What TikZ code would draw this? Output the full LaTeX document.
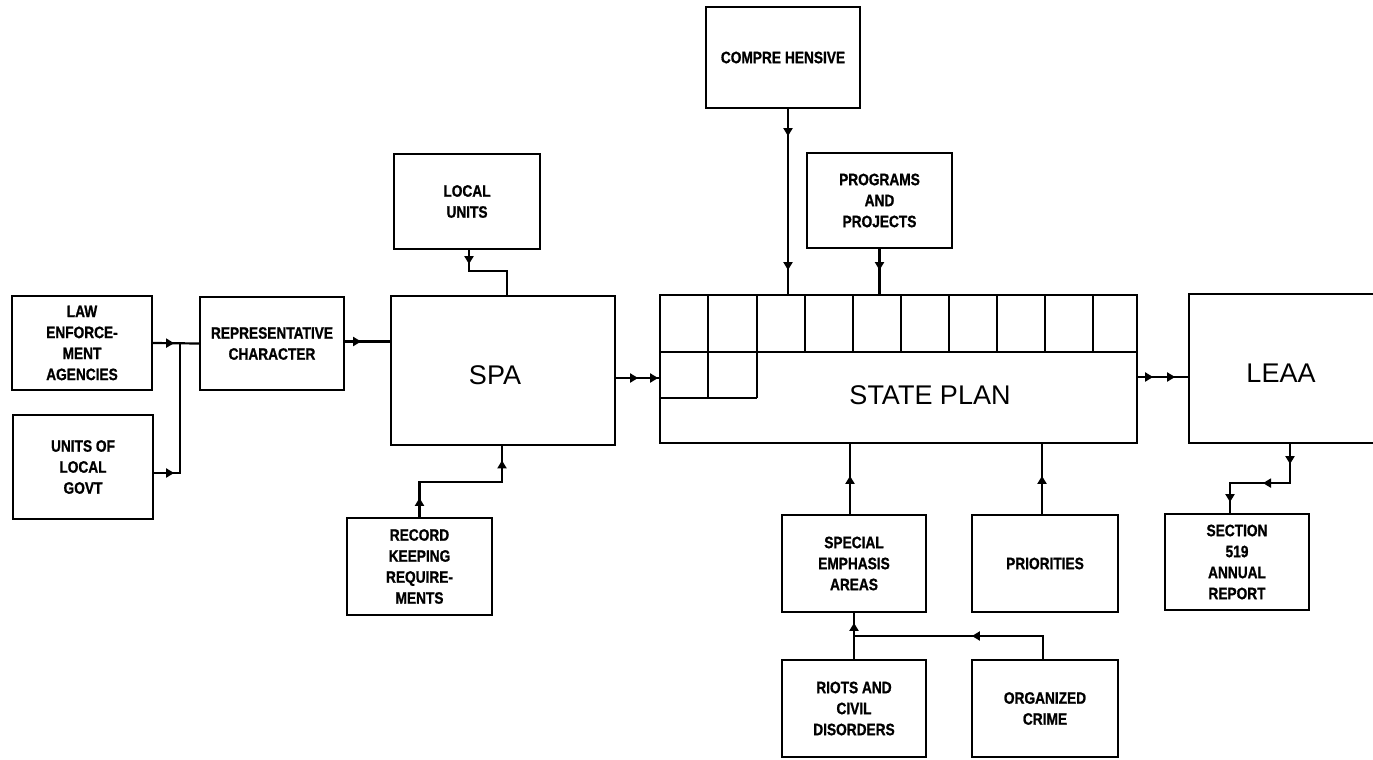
\documentclass[tikz,border=0pt]{standalone}
\usepackage{fontspec}
\usetikzlibrary{arrows.meta,decorations.markings}
\newfontfamily\condbold[FakeStretch=0.83,FakeBold=1]{Liberation Sans}
\newfontfamily\bigsans{Liberation Sans}
\begin{document}
\begin{tikzpicture}[x=1pt,y=-1pt,
  box/.style={draw, line width=2.2pt, align=center, inner sep=0pt,
    font=\condbold\bfseries\fontsize{16.5}{21}\selectfont},
  bigbox/.style={draw, line width=2.2pt, inner sep=0pt},
  bigtext/.style={inner sep=0pt, font=\bigsans\fontsize{27}{30}\selectfont},
  conn/.style={line width=2.2pt},
  gridline/.style={line width=2pt},
  tipsat/.style={postaction={decorate,decoration={markings,#1}}},
  >={Triangle[length=8pt,width=9pt]}]
\useasboundingbox (0,0) rectangle (1373,760);
\clip (0,0) rectangle (1373,760);

% nodes
\node[box, minimum width=140pt, minimum height=94pt] (law) at (82,343) {LAW\\ENFORCE-\\MENT\\AGENCIES};
\node[box, minimum width=140pt, minimum height=104pt] (units) at (83,467) {UNITS OF\\LOCAL\\GOVT};
\node[box, minimum width=144pt, minimum height=93pt] (rep) at (272,343.5) {REPRESENTATIVE\\CHARACTER};
\node[box, minimum width=146pt, minimum height=95pt] (local) at (467,201.5) {LOCAL\\UNITS};
\node[bigbox, minimum width=224pt, minimum height=149pt] (spa) at (503,370.5) {};
\node[bigtext] (spatext) at (495,375) {SPA};
\node[box, minimum width=145pt, minimum height=97pt] (record) at (419.5,566.5) {RECORD\\KEEPING\\REQUIRE-\\MENTS};
\node[box, minimum width=154pt, minimum height=101pt] (comp) at (783,57.5) {COMPRE\kern4pt HENSIVE};
\node[box, minimum width=145pt, minimum height=95pt] (prog) at (879.5,200.5) {PROGRAMS\\AND\\PROJECTS};
\node[bigbox, minimum width=477pt, minimum height=148pt] (plan) at (898.5,369) {};
\node[bigtext] (plantext) at (930,395) {STATE PLAN};
\node[bigbox, minimum width=220pt, minimum height=149pt] (leaa) at (1299,368.5) {};
\node[bigtext] (leaatext) at (1281,373) {LEAA};
\node[box, minimum width=144pt, minimum height=96pt] (section) at (1237,562) {SECTION\\519\\ANNUAL\\REPORT};
\node[box, minimum width=144pt, minimum height=97pt] (special) at (854,563.5) {SPECIAL\\EMPHASIS\\AREAS};
\node[box, minimum width=146pt, minimum height=97pt] (prior) at (1045,563.5) {PRIORITIES};
\node[box, minimum width=144pt, minimum height=97pt] (riots) at (854,708.5) {RIOTS AND\\CIVIL\\DISORDERS};
\node[box, minimum width=146pt, minimum height=97pt] (org) at (1045,708.5) {ORGANIZED\\CRIME};

% grid inside state plan
\draw[gridline] (660,352) -- (1137,352);
\foreach \xx in {805,853,901,949,997,1045,1093} {\draw[gridline] (\xx,295) -- (\xx,352);}
\draw[gridline] (708,295) -- (708,398);
\draw[gridline] (757,295) -- (757,398);
\draw[gridline] (660,398) -- (757,398);

% helper coordinates
\coordinate (bus) at (180,343);
\coordinate (join) at (854,636);

% connectors
\draw[conn, tipsat={mark=at position 21pt with {\arrow{>}}, mark=at position 47pt with {\arrow{>}}}] (law.east) -- (rep.west);
\draw[conn, tipsat={mark=at position 20pt with {\arrow{>}}}] ([yshift=-6pt]units.east) -| (bus);
\draw[conn, tipsat={mark=at position 16pt with {\arrow{>}}, mark=at position 45pt with {\arrow{>}}}] ([yshift=2pt]rep.east) -- ([yshift=2pt]rep.east -| spa.west);
\draw[conn, tipsat={mark=at position 14pt with {\arrow{>}}}] ([xshift=2pt]local.south) -- ++(0,21) -| ([xshift=4pt]spa.north);
\draw[conn, tipsat={mark=at position 19pt with {\arrow{>}}, mark=at position 139pt with {\arrow{>}}}] (record.north) -- ++(0,-35) -| ([xshift=-1pt]spa.south);
\draw[conn, tipsat={mark=at position 22pt with {\arrow{>}}, mark=at position 42pt with {\arrow{>}}}] ([yshift=-7.5pt]spa.east) -- ([yshift=-7.5pt]spa.east -| plan.west);
\draw[conn, tipsat={mark=at position 27pt with {\arrow{>}}, mark=at position 161pt with {\arrow{>}}}] ([xshift=5pt]comp.south) -- ([xshift=5pt]comp.south |- plan.north);
\draw[conn, tipsat={mark=at position 21pt with {\arrow{>}}}] (prog.south) -- (prog.south |- plan.north);
\draw[conn, tipsat={mark=at position 15pt with {\arrow{>}}, mark=at position 37pt with {\arrow{>}}}] ([yshift=-8pt]plan.east) -- ([yshift=-8pt]plan.east -| leaa.west);
\draw[conn, tipsat={mark=at position 20pt with {\arrow{>}}, mark=at position 66pt with {\arrow{>}}, mark=at position 118pt with {\arrow{>}}}] ([xshift=-9pt]leaa.south) -- ++(0,39) -| ([xshift=-7pt]section.north);
\draw[conn, tipsat={mark=at position 38pt with {\arrow{>}}}] ([xshift=-4pt]special.north) -- ([xshift=-4pt]special.north |- plan.south);
\draw[conn, tipsat={mark=at position 38pt with {\arrow{>}}}] ([xshift=-3pt]prior.north) -- ([xshift=-3pt]prior.north |- plan.south);
\draw[conn, tipsat={mark=at position 36pt with {\arrow{>}}}] (riots.north) -- (riots.north |- special.south);
\draw[conn, tipsat={mark=at position 94pt with {\arrow{>}}}] ([xshift=-2pt]org.north) |- (join);
\end{tikzpicture}
\end{document}
